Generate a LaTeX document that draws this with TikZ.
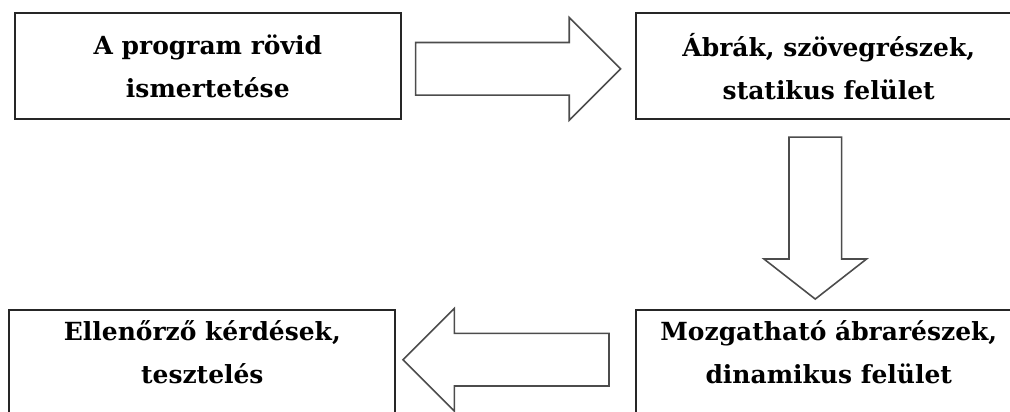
\documentclass[tikz,border=0pt]{standalone}
\usepackage{fontspec}
\setmainfont{DejaVu Serif}
\usetikzlibrary{matrix,shapes.arrows,calc}

\tikzset{
  stage/.style={draw=black!85, line width=1.1pt, align=center,
    minimum width=7.72cm, minimum height=2.12cm, inner sep=0pt,
    font=\bfseries\fontsize{14.2}{24.5}\selectfont},
  fatarrow/.style={single arrow, draw=black!70, line width=0.9pt, fill=white, anchor=tail,
    minimum width=2.02cm, single arrow head extend=0.5cm, inner xsep=0pt, inner ysep=0.51cm}
}

\begin{document}
\begin{tikzpicture}
  \path[use as bounding box, clip] (0,0) rectangle (20.2,-8.24);
  \matrix (m) [row sep=3.78cm, column sep=4.66cm, inner sep=0pt, anchor=north west] at (0.16,-0.24)
  {
    \node[stage] (b1) {A program rövid\\ismertetése}; &
    \node[stage] (b2) {Ábrák, szövegrészek,\\statikus felület}; \\
    \node[stage, xshift=-0.11cm, text depth=0.45cm] (b4) {Ellenőrző kérdések,\\tesztelés}; &
    \node[stage, text depth=0.45cm] (b3) {Mozgatható ábrarészek,\\dinamikus felület}; \\
  };
  % block arrows between the stages
  \node[fatarrow, minimum height=4.1cm] (a12) at ($(b1.east)+(0.26,-0.05)$) {};
  \node[fatarrow, minimum height=3.24cm, shape border rotate=270, single arrow tip angle=104,
    inner xsep=0.51cm, inner ysep=0pt] (a23) at ($(b2.south)+(-0.27,-0.32)$) {};
  \node[fatarrow, minimum height=4.12cm, shape border rotate=180]
    (a34) at ($(b3.west)+(-0.5,0.07)$) {};
\end{tikzpicture}
\end{document}
